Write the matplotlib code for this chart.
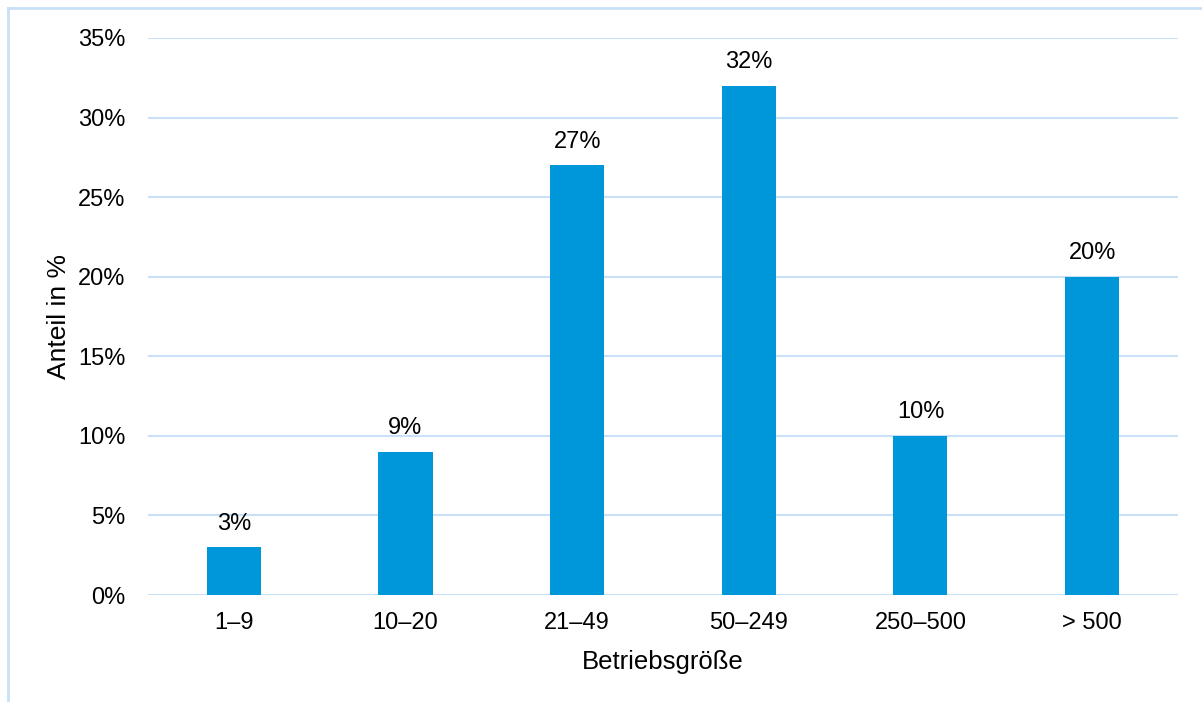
import matplotlib.pyplot as plt
from matplotlib.lines import Line2D

plt.rcParams['font.family'] = ['Liberation Sans', 'DejaVu Sans']

categories = ['1–9', '10–20', '21–49', '50–249', '250–500', '> 500']
shares = [3, 9, 27, 32, 10, 20]
yticks = [0, 5, 10, 15, 20, 25, 30, 35]

bar_color = '#0096DA'
grid_color = '#C9E0F7'

fig = plt.figure(figsize=(12.02, 7.02), dpi=100)
ax = fig.add_axes([0.1231, 0.1524, 0.8569, 0.7935])

x = range(len(categories))
ax.bar(x, shares, width=0.315, color=bar_color, zorder=3)
for xi, v in zip(x, shares):
    ax.annotate(f'{v}%', (xi, v), xytext=(0, 9), textcoords='offset points',
                ha='center', va='bottom', fontsize=17, color='#000000')

ax.set_xlim(-0.5, len(categories) - 0.5)
ax.set_ylim(0, 35)
ax.set_yticks(yticks)
ax.set_yticklabels([f'{t}%' for t in yticks], fontsize=17)
ax.set_xticks(list(x))
ax.set_xticklabels(categories, fontsize=17)
ax.tick_params(axis='x', length=0, pad=12)
ax.tick_params(axis='y', length=0, pad=16)
ax.yaxis.grid(True, color=grid_color, linewidth=1.5, zorder=0)
for s in ax.spines.values():
    s.set_visible(False)

ax.set_xlabel('Betriebsgröße', fontsize=18.5, labelpad=12)
ax.set_ylabel('Anteil in %', fontsize=19, labelpad=5)

# light frame around the chart area
fig.add_artist(Line2D([8 / 1202, 1], [1 - 8 / 702] * 2, color=grid_color, linewidth=2,
                      transform=fig.transFigure))
fig.add_artist(Line2D([8 / 1202] * 2, [0, 1 - 8 / 702], color=grid_color, linewidth=2,
                      transform=fig.transFigure))

fig.savefig('out.png', dpi=100)
